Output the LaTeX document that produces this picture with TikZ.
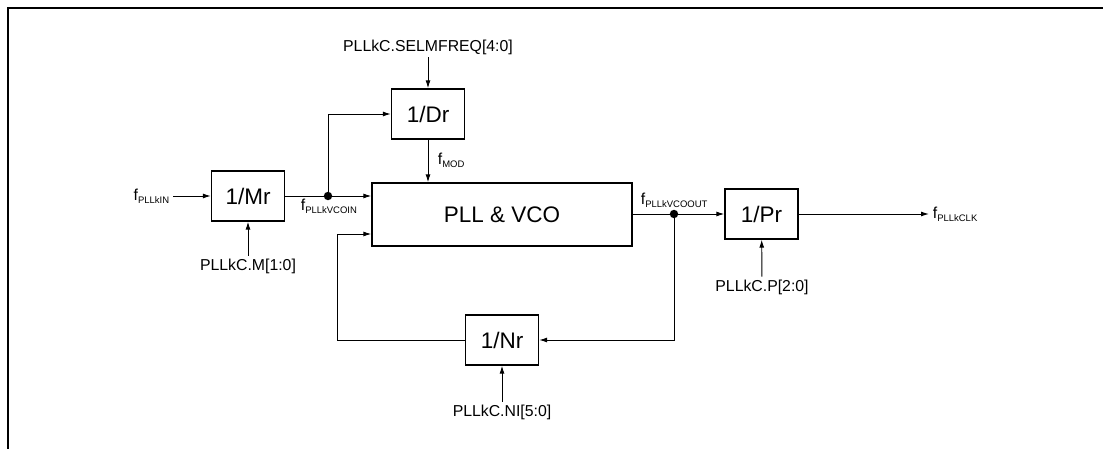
\documentclass[tikz,border=0pt]{standalone}
\usepackage{fontspec}
\setmainfont{Liberation Sans}
\usepackage{tikz}
\usetikzlibrary{arrows.meta,positioning,calc}

% signal name: f with a small subscript
\newcommand{\fsig}[1]{f\raisebox{-0.4ex}{\fontsize{5.4}{6}\selectfont #1}}

\begin{document}
\begin{tikzpicture}[
  x=0.02cm,y=-0.02cm,
  blk/.style={draw,line width=0.8pt,minimum width=1.46cm,minimum height=1cm,inner sep=0pt,font=\fontsize{12.8}{15}\selectfont},
  cfg/.style={font=\fontsize{9}{11}\selectfont,inner sep=1.5pt},
  sig/.style={font=\fontsize{9}{11}\selectfont,inner sep=2pt},
  wire/.style={line width=0.55pt},
  >={Latex[length=4.5pt,width=2.8pt]}]

  \useasboundingbox (0,0) rectangle (1103,449);

  % frame
  \draw[line width=1.3pt] (8,449) -- (8,8) -- (1103,8);

  % blocks
  \node[blk] (mr) at (248,196) {1/Mr};
  \node[blk] (dr) at (428,114) {1/Dr};
  \node[blk,minimum width=5.2cm,minimum height=1.26cm] (pll) at (502,214.5) {PLL \& VCO};
  \node[blk] (pr) at (761.5,214) {1/Pr};
  \node[blk] (nr) at (502,340) {1/Nr};

  % inputs and outputs
  \node[sig,anchor=east] (fin) at (173,196) {\fsig{PLLkIN}};
  \node[sig,anchor=west] (fout) at (929,214) {\fsig{PLLkCLK}};
  \node[cfg] (mcfg) at (248,266) {PLLkC.M[1:0]};
  \node[cfg] (selm) at (428,47) {PLLkC.SELMFREQ[4:0]};
  \node[cfg] (pcfg) at (762,287) {PLLkC.P[2:0]};
  \node[cfg] (ncfg) at (502,412) {PLLkC.NI[5:0]};

  % junctions
  \coordinate (jin) at (328,196);
  \coordinate (jout) at (674,214);
  \coordinate (fbl) at (337,234);
  \fill (jin) circle (2.4pt);
  \fill (jout) circle (2.4pt);

  % connectors
  \draw[wire,->] (fin) -- (mr);
  \draw[wire,->] (mcfg) -- (mr);
  \draw[wire] (mr) -- (jin);
  \draw[wire,->] (jin) -- (jin -| pll.west);
  \draw[wire,->] (jin) |- (dr);
  \draw[wire,->] (selm) -- (dr);
  \draw[wire,->] (dr.south) -- (dr.south |- pll.north);
  \draw[wire] (pll.east |- jout) -- (jout);
  \draw[wire,->] (jout) -- (pr);
  \draw[wire,->] (pr) -- (fout);
  \draw[wire,->] (pcfg) -- (pr);
  \draw[wire,->] (jout) |- (nr);
  \draw[wire,->] (ncfg) -- (nr);
  \draw[wire,->] (nr) -| (fbl) -- (fbl -| pll.west);

  % signal labels
  \node[sig,anchor=west] (lvcoin) at (297,206) {\fsig{PLLkVCOIN}};
  \node[sig,anchor=west] (lmod) at (434,160) {\fsig{MOD}};
  \node[sig,anchor=west] (lvcoout) at (637,200) {\fsig{PLLkVCOOUT}};

\end{tikzpicture}
\end{document}
